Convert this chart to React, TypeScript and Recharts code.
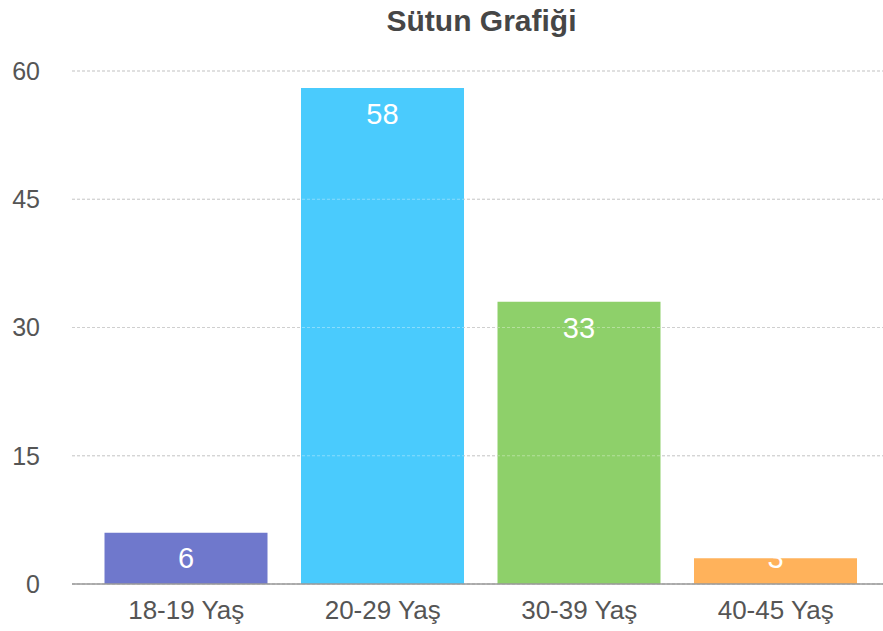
import { BarChart, Bar, XAxis, YAxis, CartesianGrid, ReferenceLine, LabelList, Cell } from 'recharts'

const categories = ['18-19 Yaş', '20-29 Yaş', '30-39 Yaş', '40-45 Yaş']
const counts = [6, 58, 33, 3]
const barColors = ['#6f78cc', '#4acbfd', '#8ed06a', '#ffb25b']
const yTicks = [0, 15, 30, 45, 60]

const data = categories.map((name, i) => ({ name, value: counts[i] }))

const FONT = '"Liberation Sans", Arial, Helvetica, sans-serif'

// white value label near the top of each bar, kept clear of the axis
function BarValue(props: any) {
  const { x, y, width, height, value } = props
  const cy = Math.min(y + 26, y + height - 26)
  return (
    <text
      x={x + width / 2}
      y={cy}
      fill="#fff"
      fontSize={29}
      fontFamily={FONT}
      textAnchor="middle"
      dominantBaseline="central"
    >
      {value}
    </text>
  )
}

export default function App() {
  return (
    <div style={{ position: 'absolute', left: 0, top: 0, width: 883, height: 631, background: '#fff', fontFamily: FONT }}>
      <div
        style={{
          position: 'absolute',
          left: 80,
          right: 0,
          top: 4,
          textAlign: 'center',
          fontSize: 30,
          fontWeight: 'bold',
          color: '#464646',
        }}
      >
        Sütun Grafiği
      </div>
      <BarChart
        width={883}
        height={631}
        data={data}
        margin={{ top: 71, right: 0, bottom: 0, left: 0 }}
        barCategoryGap="8.4%"
      >
        <CartesianGrid horizontal vertical={false} stroke="#b5b5b5" strokeDasharray="3 2" />
        <XAxis
          dataKey="name"
          height={47}
          padding={{ left: 16, right: 9 }}
          tickLine={false}
          tickSize={0}
          tickMargin={17}
          axisLine={{ stroke: '#9a9a9a', strokeWidth: 1.5 }}
          tick={{ fill: '#555', fontSize: 26, fontFamily: FONT }}
        />
        <YAxis
          width={72}
          domain={[0, 60]}
          ticks={yTicks}
          axisLine={false}
          tickLine={false}
          tickSize={0}
          tickMargin={32}
          tick={{ fill: '#555', fontSize: 25, fontFamily: FONT }}
        />
        <Bar dataKey="value" isAnimationActive={false}>
          {data.map((d, i) => (
            <Cell key={d.name} fill={barColors[i]} />
          ))}
          <LabelList dataKey="value" content={BarValue} />
        </Bar>
        {yTicks.slice(1).map((t) => (
          <ReferenceLine key={t} y={t} stroke="#ffffff" strokeOpacity={0.35} strokeDasharray="3 2" />
        ))}
      </BarChart>
    </div>
  )
}
